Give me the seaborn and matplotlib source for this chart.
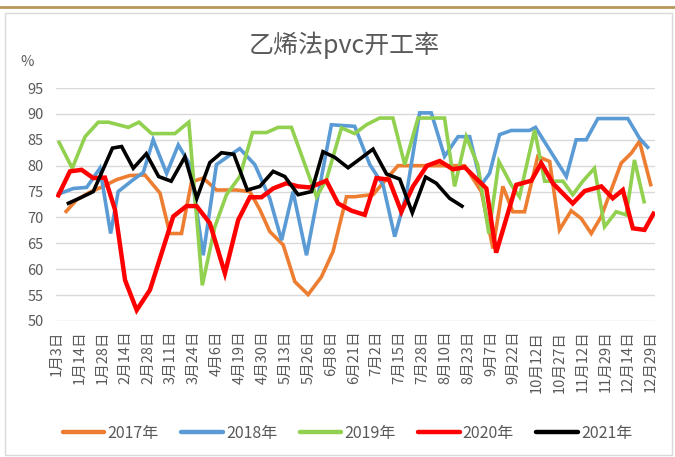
import matplotlib
matplotlib.use("Agg")
import matplotlib.pyplot as plt
from matplotlib.lines import Line2D
from matplotlib.patches import Rectangle
import pandas as pd
import seaborn as sns

# x tick labels (one per label slot on the axis)
date_labels = ["1月3日", "1月14日", "1月28日", "2月14日", "2月28日", "3月11日", "3月24日",
               "4月6日", "4月19日", "4月30日", "5月13日", "5月26日", "6月8日", "6月21日",
               "7月2日", "7月15日", "7月28日", "8月10日", "8月23日", "9月7日", "9月22日",
               "10月12日", "10月27日", "11月12日", "11月29日", "12月14日", "12月29日"]

# x is measured in label slots (0 = 1月3日, 26 = 12月29日), values are % operating rate
x2017 = [0.36, 0.87, 1.46, 2.04, 2.62, 3.20, 3.86, 4.52, 4.95, 5.46, 5.90, 6.41, 6.99, 7.87,
         8.45, 8.89, 9.32, 9.91, 10.42, 11.00, 11.58, 12.09, 12.68, 13.04, 13.40, 13.84,
         14.93, 17.19, 17.85, 18.58, 19.09, 19.52, 19.96, 20.47, 21.05, 21.57, 22.00, 22.51,
         22.95, 23.39, 23.83, 24.70, 25.14, 25.50, 26.01]
v2017 = [70.9, 73.4, 74.9, 76.0, 77.3, 78.1, 78.2, 74.7, 66.9, 66.9, 76.9, 77.6, 75.3, 75.3,
         75.0, 71.5, 67.3, 64.7, 57.6, 55.1, 58.5, 63.4, 74.0, 74.0, 74.2, 74.4,
         80.0, 80.0, 80.0, 75.0, 64.0, 76.0, 71.1, 71.1, 81.8, 80.8, 67.6, 71.3,
         69.8, 66.9, 70.2, 80.5, 82.4, 84.7, 76.0]

x2018 = [0.07, 0.73, 1.31, 1.89, 2.36, 2.69, 3.35, 3.79, 4.22, 4.81, 5.32, 5.83, 6.41, 6.99,
         7.50, 8.01, 8.67, 9.32, 9.84, 10.34, 10.93, 11.44, 12.02, 13.04, 13.70, 14.28, 14.79,
         15.30, 15.88, 16.39, 16.97, 17.56, 18.07, 18.58, 18.94, 19.38, 19.89, 20.69, 20.95,
         22.30, 22.73, 23.17, 23.68, 24.99, 25.50, 25.91]
v2018 = [74.5, 75.6, 75.8, 79.5, 66.9, 75.0, 77.3, 78.7, 85.0, 78.5, 84.0, 80.2, 62.7, 80.2,
         81.8, 83.3, 80.2, 73.7, 65.6, 75.0, 62.7, 74.4, 87.9, 87.6, 80.2, 76.3, 66.3,
         74.4, 90.2, 90.2, 81.8, 85.6, 85.6, 76.3, 78.5, 86.0, 86.8, 86.8, 87.4,
         77.9, 85.0, 85.0, 89.1, 89.1, 85.3, 83.3]

x2019 = [0.07, 0.68, 1.24, 1.82, 2.26, 3.13, 3.60, 4.15, 5.17, 5.78, 6.37, 6.92, 7.43, 8.01,
         8.57, 9.18, 9.69, 10.27, 11.37, 11.80, 12.46, 13.04, 13.55, 14.13, 14.71, 15.23,
         15.81, 16.97, 17.41, 17.92, 18.42, 18.91, 19.35, 19.89, 20.25, 20.91, 21.35, 22.15,
         22.58, 23.02, 23.53, 23.97, 24.48, 24.92, 25.28, 25.72]
v2019 = [84.8, 79.5, 85.6, 88.4, 88.4, 87.4, 88.4, 86.2, 86.2, 88.4, 56.9, 68.2, 74.4, 77.9,
         86.4, 86.4, 87.4, 87.4, 74.0, 77.3, 87.3, 86.2, 87.9, 89.2, 89.2, 80.2,
         89.2, 89.2, 76.0, 85.6, 80.2, 66.9, 80.8, 76.3, 74.0, 86.9, 77.0, 77.0,
         74.4, 77.0, 79.5, 68.2, 71.1, 70.5, 81.1, 72.7]

x2020 = [0.03, 0.58, 1.09, 1.60, 2.11, 2.55, 2.99, 3.50, 4.08, 4.59, 5.10, 5.68, 6.12, 6.70,
         7.36, 7.94, 8.45, 8.96, 9.47, 10.05, 10.56, 11.07, 11.80, 12.31, 12.90, 13.48, 13.99,
         14.54, 15.08, 15.59, 16.20, 16.76, 17.34, 17.85, 18.80, 19.23, 20.11, 20.77, 21.20,
         21.71, 22.58, 23.10, 23.83, 24.33, 24.77, 25.21, 25.72, 26.16]
v2020 = [73.9, 78.9, 79.2, 77.6, 77.7, 71.5, 57.9, 52.1, 56.0, 63.1, 70.2, 72.2, 72.2, 68.9,
         59.2, 69.5, 73.9, 73.9, 75.6, 76.6, 76.0, 75.8, 77.1, 72.7, 71.3, 70.5, 77.6,
         77.3, 71.1, 76.0, 80.0, 80.9, 79.3, 79.7, 75.6, 63.2, 76.3, 77.1, 80.5,
         76.6, 72.7, 75.1, 76.0, 73.7, 75.3, 67.9, 67.6, 71.1]

x2021 = [0.44, 1.09, 1.60, 2.44, 2.84, 3.35, 3.92, 4.46, 5.01, 5.61, 6.13, 6.70, 7.21, 7.75,
         8.34, 8.89, 9.47, 9.98, 10.56, 11.15, 11.65, 12.17, 12.75, 13.33, 13.84, 14.43,
         15.01, 15.56, 16.14, 16.61, 17.19, 17.80]
v2021 = [72.6, 73.9, 75.0, 83.4, 83.7, 79.5, 82.3, 77.9, 77.0, 81.7, 73.7, 80.6, 82.5, 82.2,
         75.3, 76.0, 78.9, 77.9, 74.4, 75.0, 82.7, 81.6, 79.6, 81.5, 83.2, 78.4,
         77.4, 70.9, 77.8, 76.6, 73.7, 72.0]

years = ["2017年", "2018年", "2019年", "2020年", "2021年"]
colors = ["#ED7D31", "#5B9BD5", "#92D050", "#FF0000", "#000000"]
widths = [2.6, 2.6, 2.6, 3.2, 2.6]

frames = []
for year, xs, vs in zip(years, [x2017, x2018, x2019, x2020, x2021],
                        [v2017, v2018, v2019, v2020, v2021]):
    frames.append(pd.DataFrame({"slot": xs, "rate": vs, "year": year}))
df = pd.concat(frames, ignore_index=True)

sns.set_style("white")
plt.rcParams["font.family"] = ["Noto Sans CJK SC", "DejaVu Sans"]
grey = "#595959"

fig = plt.figure(figsize=(6.75, 4.57), dpi=100)
ax = fig.add_axes([0.083, 0.2976, 0.8874, 0.5098])

for year, color, lw in zip(years, colors, widths):
    sns.lineplot(data=df[df["year"] == year], x="slot", y="rate", color=color,
                 linewidth=lw, estimator=None, sort=False, ax=ax,
                 solid_capstyle="butt", solid_joinstyle="miter")

ax.set_ylim(50, 95)
ax.set_yticks(range(50, 96, 5))
ax.set_xlim(-0.03, 26.18)
ax.set_xticks(range(len(date_labels)))
ax.set_xticklabels(date_labels, rotation=90, fontsize=10.5, color=grey)
ax.tick_params(axis="y", labelsize=10.5, labelcolor=grey, length=0, pad=9)
ax.tick_params(axis="x", length=0, pad=7)
ax.yaxis.grid(True, color="#d9d9d9", linewidth=1)
ax.set_axisbelow(True)
for s in ax.spines.values():
    s.set_visible(False)
ax.set_xlabel("")
ax.set_ylabel("")

fig.text(0.51, 0.90, "乙烯法pvc开工率", ha="center", va="center", fontsize=18, color=grey)
fig.text(0.04, 0.864, "%", ha="center", va="center", fontsize=10.5, color=grey)

handles = [Line2D([], [], color=c, linewidth=3.2) for c in colors]
fig.legend(handles, years, loc="center", bbox_to_anchor=(0.515, 0.0525), ncol=5,
           frameon=False, fontsize=11.5, handlelength=2.6, handletextpad=0.2,
           columnspacing=1.4, labelcolor=grey)

# page decoration: gold rule at the top and the light chart border
fig.add_artist(Line2D([0, 1], [0.985, 0.985], color="#B8965A", linewidth=2))
fig.add_artist(Rectangle((0.0074, 0.004), 0.988, 0.968, fill=False,
                         edgecolor="#d9d9d9", linewidth=1))

fig.savefig("out.png", dpi=100)
